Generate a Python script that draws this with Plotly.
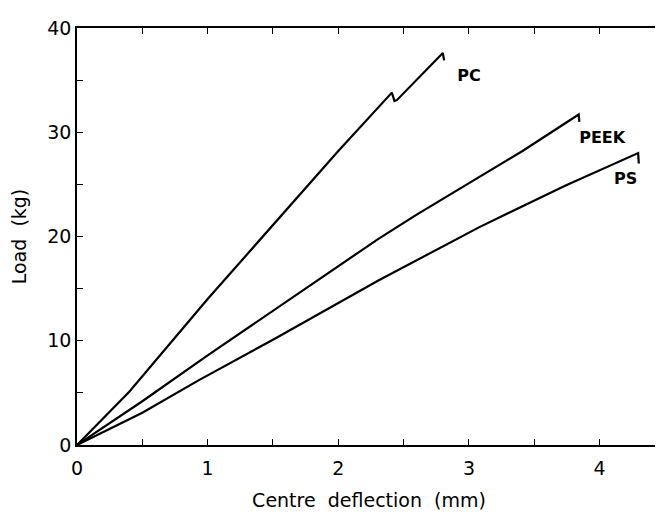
import plotly.graph_objects as go

# Data (Centre deflection mm, Load kg)
pc_x = [0, 0.4, 1.0, 1.5, 2.0, 2.41, 2.43, 2.45, 2.80, 2.81]
pc_y = [0, 5.1, 14.0, 21.1, 28.2, 33.8, 33.0, 33.1, 37.6, 36.9]

peek_x = [0, 0.5, 1.0, 1.5, 2.0, 2.31, 2.6, 3.0, 3.41, 3.84, 3.845]
peek_y = [0, 4.2, 8.6, 12.9, 17.2, 19.8, 22.1, 25.1, 28.2, 31.7, 31.0]

ps_x = [0, 0.5, 0.93, 1.5, 2.31, 3.08, 3.74, 4.295, 4.30]
ps_y = [0, 3.1, 6.2, 10.1, 15.8, 20.9, 24.9, 28.0, 27.0]

labels = ["PC", "PEEK", "PS"]
label_x = [3.0, 4.02, 4.2]
label_y = [35.3, 29.35, 25.4]

x_ticks = [0, 1, 2, 3, 4]
y_ticks = [0, 10, 20, 30, 40]

FONT = "DejaVu Sans"

fig = go.Figure()
for xs, ys in [(pc_x, pc_y), (peek_x, peek_y), (ps_x, ps_y)]:
    fig.add_trace(go.Scatter(x=xs, y=ys, mode="lines",
                             line=dict(color="black", width=2.2),
                             showlegend=False, hoverinfo="skip"))

fig.add_trace(go.Scatter(x=label_x, y=label_y, mode="text", text=labels,
                         textfont=dict(family="DejaVu Sans", size=16, color="black", weight="bold"),
                         showlegend=False, hoverinfo="skip"))

fig.update_layout(
    width=663, height=516,
    margin=dict(l=69, r=10, t=20, b=79),
    paper_bgcolor="white", plot_bgcolor="white",
    font=dict(family=FONT, color="black", size=17),
)
fig.update_xaxes(
    range=[0, 4.47], tickvals=x_ticks, ticktext=[str(v) for v in x_ticks],
    ticks="inside", ticklen=6, tickwidth=1.2, tickcolor="black",
    minor=dict(dtick=0.5, ticks="inside", ticklen=6, tickwidth=1.2, tickcolor="black", showgrid=False),
    showline=True, linecolor="black", linewidth=1.5, mirror="ticks",
    showgrid=False, zeroline=False, automargin=False, ticklabelstandoff=5,
    title=dict(text="Centre  deflection  (mm)", font=dict(size=19), standoff=16),
    tickfont=dict(size=19),
)
fig.update_yaxes(
    range=[0, 40], tickvals=y_ticks, ticktext=[str(v) for v in y_ticks],
    ticks="inside", ticklen=6, tickwidth=1.2, tickcolor="black",
    minor=dict(dtick=5, ticks="inside", ticklen=6, tickwidth=1.2, tickcolor="black", showgrid=False),
    showline=True, linecolor="black", linewidth=1.5, mirror="ticks",
    showgrid=False, zeroline=False, automargin=False,
    title=dict(text="Load  (kg)", font=dict(size=19), standoff=17),
    tickfont=dict(size=19),
)

fig.write_html("out.html")
